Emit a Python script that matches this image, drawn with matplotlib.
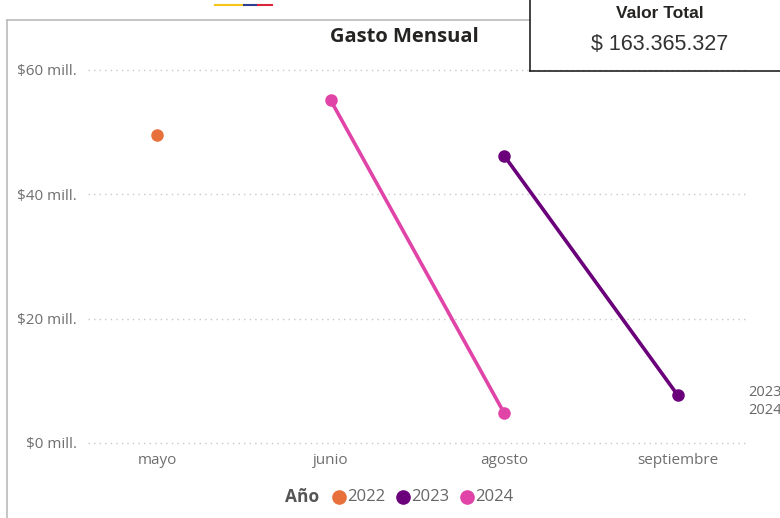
import matplotlib.pyplot as plt
from matplotlib.lines import Line2D

# Categorías del eje x y series por año (millones)
meses = ['mayo', 'junio', 'agosto', 'septiembre']
serie_2022 = {'mayo': 49.6}
serie_2023 = {'agosto': 46.2, 'septiembre': 7.7}
serie_2024 = {'junio': 55.1, 'agosto': 4.8}
anios = ['2022', '2023', '2024']
colores = ['#E8703A', '#6B007B', '#E044A7']
y_ticks = [0, 20, 40, 60]
valor_total = '$ 163.365.327'

plt.rcParams['font.family'] = ['Open Sans', 'DejaVu Sans']

W, H = 780, 518
fig = plt.figure(figsize=(W / 100, H / 100), dpi=100)

def px(x0, y0, x1, y1):
    return [x0 / W, 1 - y1 / H, (x1 - x0) / W, (y1 - y0) / H]

ax = fig.add_axes(px(88, 60, 747, 450))
ax.set_xlim(-0.4, 3.4)
ax.set_ylim(-1.13, 61.6)

for serie, col in zip([serie_2022, serie_2023, serie_2024], colores):
    xs = [meses.index(m) for m in serie]
    ys = list(serie.values())
    ax.plot(xs, ys, color=col, lw=2.6, marker='o', ms=8, solid_capstyle='round')

ax.set_yticks(y_ticks)
ax.set_yticklabels([f'${v} mill.' for v in y_ticks])
ax.set_xticks(range(len(meses)))
ax.set_xticklabels(meses)
ax.tick_params(length=0, colors='#6f6f6f', labelsize=11)
ax.tick_params(axis='y', pad=8)
ax.tick_params(axis='x', pad=2)
ax.grid(axis='y', color='#c8c8c8', lw=1, linestyle=(0, (1, 3)))
for s in ax.spines.values():
    s.set_visible(False)

# Etiquetas junto al borde derecho
fig.text(748 / W, 1 - 392 / H, '2023', color='#666666', fontsize=10.5, va='center')
fig.text(748 / W, 1 - 410 / H, '2024', color='#666666', fontsize=10.5, va='center')

# Título
fig.text(404 / W, 1 - 37 / H, 'Gasto Mensual', ha='center', va='center',
         fontsize=14.5, fontweight='bold', color='#252423')

# Marco del visual
fig.add_artist(Line2D([7 / W, 7 / W], [0, 1 - 20 / H], color='#bbbbbb', lw=1.2))
fig.add_artist(Line2D([7 / W, 530 / W], [1 - 20 / H, 1 - 20 / H], color='#bbbbbb', lw=1.2))

# Banda de colores arriba
for x0, x1, c in [(215, 244, '#F5C518'), (244, 258, '#2E3F8F'), (258, 272, '#D9263A')]:
    fig.add_artist(Line2D([x0 / W, x1 / W], [1 - 5 / H, 1 - 5 / H], color=c, lw=1.5))

# Tarjeta Valor Total
fig.add_artist(Line2D([530 / W, 530 / W], [1, 1 - 71 / H], color='#222222', lw=1.2))
fig.add_artist(Line2D([530 / W, 1], [1 - 71 / H, 1 - 71 / H], color='#222222', lw=1.2))
fig.text(660 / W, 1 - 13 / H, 'Valor Total', ha='center', va='center', fontsize=12.5,
         fontweight='bold', color='#252423', family='Liberation Sans')
fig.text(660 / W, 1 - 45 / H, valor_total, ha='center', va='center', fontsize=15.5,
         color='#333333', family='Liberation Sans')

# Leyenda
fig.text(285 / W, 1 - 497 / H, 'Año', ha='left', va='center', fontsize=12.5,
         fontweight='bold', color='#555555')
lx = [339, 403, 467]
for x, a, c in zip(lx, anios, colores):
    fig.add_artist(Line2D([x / W], [1 - 497 / H], marker='o', ms=9.5, color=c, lw=0))
    fig.text((x + 8) / W, 1 - 497 / H, a, ha='left', va='center', fontsize=12, color='#666666')

fig.savefig('out.png', dpi=100)
